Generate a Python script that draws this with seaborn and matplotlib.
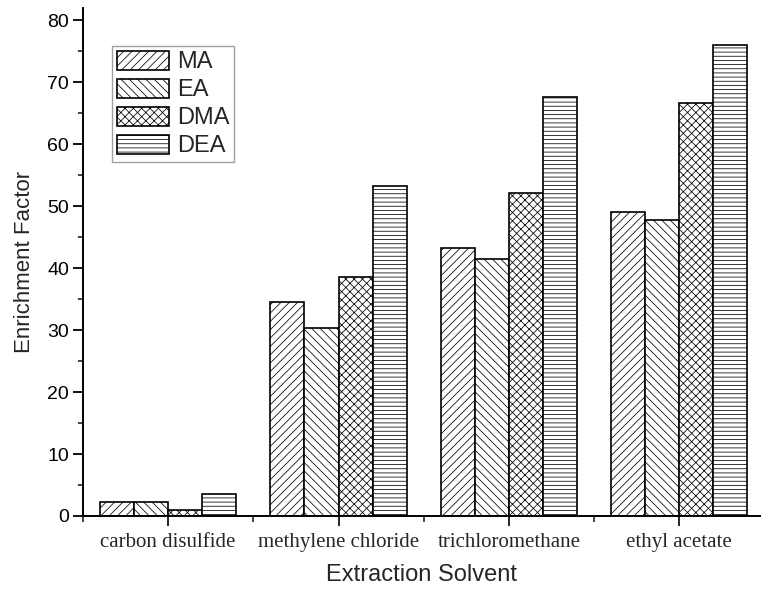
import matplotlib
matplotlib.use("Agg")
import matplotlib.pyplot as plt
import seaborn as sns
import pandas as pd
from matplotlib.ticker import MultipleLocator, FixedLocator
from matplotlib.patches import Patch

solvents = ["carbon disulfide", "methylene chloride", "trichloromethane", "ethyl acetate"]
series = ["MA", "EA", "DMA", "DEA"]
MA = [2.3, 34.5, 43.3, 49.1]
EA = [2.2, 30.3, 41.5, 47.7]
DMA = [1.0, 38.6, 52.1, 66.7]
DEA = [3.6, 53.3, 67.6, 76.1]
hatches = ["////", "\\\\\\\\", "xxxx", "----"]

rows = []
for name, vals in zip(series, [MA, EA, DMA, DEA]):
    for s, v in zip(solvents, vals):
        rows.append({"Solvent": s, "Series": name, "Value": v})
df = pd.DataFrame(rows)

sns.set_style("ticks")
plt.rcParams["font.family"] = ["Liberation Sans", "DejaVu Sans"]
plt.rcParams["hatch.linewidth"] = 0.55
plt.rcParams["hatch.color"] = "#444444"

fig = plt.figure(figsize=(7.61, 5.92), dpi=100)
ax = fig.add_axes([83/761, 76/592, 678/761, 508/592])

sns.barplot(data=df, x="Solvent", y="Value", hue="Series", order=solvents,
            hue_order=series, palette=["white"] * 4, edgecolor="black",
            linewidth=1.2, width=0.8, ax=ax, legend=False, errorbar=None)

for cont, h in zip(ax.containers, hatches):
    for p in cont:
        p.set_hatch(h)
        p.set_edgecolor("black")

ax.set_xlim(-0.5, 3.48)
ax.set_ylim(0, 82)
sns.despine(ax=ax)
for sp in ["left", "bottom"]:
    ax.spines[sp].set_linewidth(1.4)
    ax.spines[sp].set_color("black")

ax.yaxis.set_major_locator(MultipleLocator(10))
ax.yaxis.set_minor_locator(MultipleLocator(5))
ax.xaxis.set_minor_locator(FixedLocator([-0.5, 0.5, 1.5, 2.5, 3.5]))
ax.tick_params(axis="y", which="major", direction="out", length=7, width=1.3,
               labelsize=14, colors="black", pad=3)
ax.tick_params(axis="y", which="minor", direction="out", length=3.5, width=1.2)
ax.tick_params(axis="x", which="major", direction="out", length=7, width=1.4,
               labelsize=15, pad=5)
ax.tick_params(axis="x", which="minor", direction="out", length=4, width=1.2)
for lab in ax.get_xticklabels():
    lab.set_fontfamily(["Liberation Serif", "DejaVu Serif"])

ax.set_xlabel("Extraction Solvent", fontsize=17, labelpad=9)
ax.set_ylabel("Enrichment Factor", fontsize=16, labelpad=9)

handles = [Patch(facecolor="white", edgecolor="black", hatch=h, linewidth=1.2)
           for h in hatches]
leg = ax.legend(handles, series, loc="upper left", bbox_to_anchor=(0.043, 0.925),
                fontsize=17, frameon=True, fancybox=False, handlelength=2.2,
                handleheight=0.85, handletextpad=0.34, labelspacing=0.23,
                borderpad=0.2, borderaxespad=0)
leg.get_frame().set_edgecolor("#888888")
leg.get_frame().set_linewidth(1.0)

fig.savefig("out.png", dpi=100)
